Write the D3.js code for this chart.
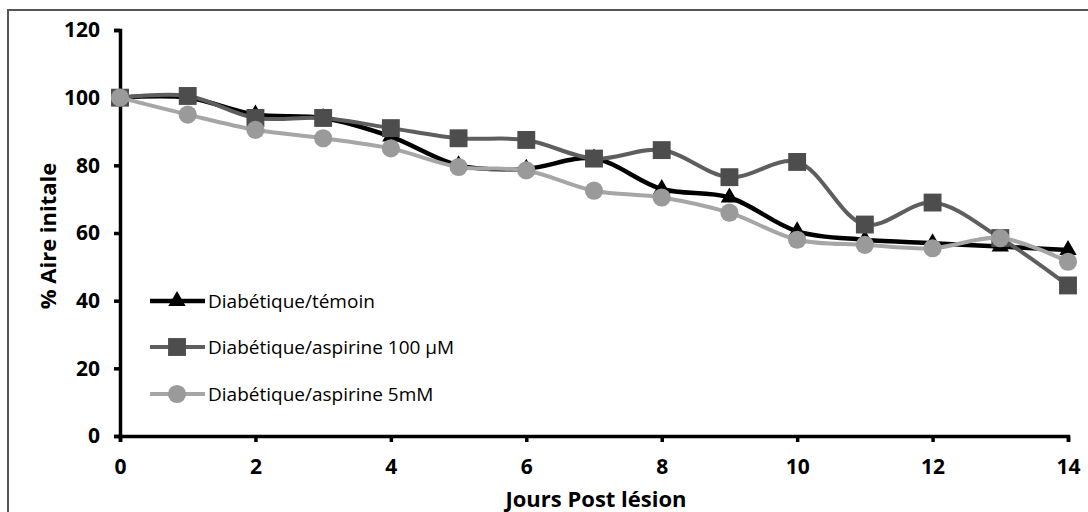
<!DOCTYPE html>
<html>
<head>
<meta charset="utf-8">
<script src="https://cdn.jsdelivr.net/npm/d3@7"></script>
<style>
  html, body { margin: 0; padding: 0; background: #fff; }
  svg { display: block; }
</style>
</head>
<body>
<svg id="chart" width="1088" height="512"></svg>
<script>
// Days after wounding
const days = [0, 1, 2, 3, 4, 5, 6, 7, 8, 9, 10, 11, 12, 13, 14];

// Remaining wound area (% of initial area) per group
const temoin      = [100, 100, 95, 94, 88.5, 80, 79, 82, 73, 70.5, 60.5, 58, 57, 56, 55];
const aspirine100 = [100, 100.5, 94, 94, 91, 88, 87.5, 82, 84.5, 76.5, 81, 62.5, 69, 58.5, 44.5];
const aspirine5   = [100, 95, 90.5, 88, 85, 79.5, 78.5, 72.5, 70.5, 66, 58, 56.5, 55.5, 58.5, 51.5];

const seriesNames = ["Diabétique/témoin", "Diabétique/aspirine 100 µM", "Diabétique/aspirine 5mM"];

const xTicks = [0, 2, 4, 6, 8, 10, 12, 14];
const yTicks = [0, 20, 40, 60, 80, 100, 120];

const xTitle = "Jours Post lésion";
const yTitle = "% Aire initale";

const svg = d3.select("#chart");

// outer frame
svg.append("rect")
  .attr("x", 8).attr("y", 10)
  .attr("width", 1100).attr("height", 520)
  .attr("fill", "none")
  .attr("stroke", "#555")
  .attr("stroke-width", 2);

const x = d3.scaleLinear().domain([0, 14]).range([120, 1068]);
const y = d3.scaleLinear().domain([0, 120]).range([436, 30]);

const tickFont = "'Open Sans', 'Noto Sans', sans-serif";

// y axis
const yAxis = svg.append("g")
  .attr("transform", `translate(${x(0)},0)`)
  .call(d3.axisLeft(y).tickValues(yTicks).tickSize(6).tickPadding(14).tickFormat(d3.format("d")));
yAxis.select(".domain").attr("stroke", "#000").attr("stroke-width", 3.5);
yAxis.selectAll(".tick line").attr("stroke", "#000").attr("stroke-width", 3.5);
yAxis.selectAll(".tick text")
  .attr("font-family", tickFont).attr("font-weight", "bold")
  .attr("font-size", 21).attr("fill", "#000");

// x axis
const xAxis = svg.append("g")
  .attr("transform", `translate(0,${y(0)})`)
  .call(d3.axisBottom(x).tickValues(xTicks).tickSize(6).tickPadding(17).tickFormat(d3.format("d")));
xAxis.select(".domain").attr("stroke", "#000").attr("stroke-width", 3.5);
xAxis.selectAll(".tick line").attr("stroke", "#000").attr("stroke-width", 3.5);
xAxis.selectAll(".tick text")
  .attr("font-family", tickFont).attr("font-weight", "bold")
  .attr("font-size", 21).attr("fill", "#000");

// axis titles
svg.append("text")
  .attr("x", 596).attr("y", 507)
  .attr("text-anchor", "middle")
  .attr("font-family", tickFont).attr("font-weight", "bold")
  .attr("font-size", 22).attr("fill", "#000")
  .text(xTitle);

svg.append("text")
  .attr("transform", "translate(56,236) rotate(-90)")
  .attr("text-anchor", "middle")
  .attr("font-family", tickFont).attr("font-weight", "bold")
  .attr("font-size", 22).attr("fill", "#000")
  .text(yTitle);

// series styling
const styles = [
  { values: temoin,      line: "#000",    mark: "#000",    width: 4.5, symbol: d3.symbolTriangle, size: 130 },
  { values: aspirine100, line: "#5e5e5e", mark: "#4d4d4d", width: 4,   symbol: d3.symbolSquare,   size: 320 },
  { values: aspirine5,   line: "#a6a6a6", mark: "#9a9a9a", width: 4,   symbol: d3.symbolCircle,   size: 260 }
];

const line = d3.line()
  .x((d, i) => x(days[i]))
  .y(d => y(d))
  .curve(d3.curveCatmullRom.alpha(0.5));

styles.forEach(s => {
  const g = svg.append("g");
  g.append("path")
    .datum(s.values)
    .attr("d", line)
    .attr("fill", "none")
    .attr("stroke", s.line)
    .attr("stroke-width", s.width)
    .attr("stroke-linejoin", "round");
  g.selectAll("path.mark")
    .data(s.values)
    .join("path")
    .attr("class", "mark")
    .attr("transform", (d, i) => `translate(${x(days[i])},${y(d)})`)
    .attr("d", d3.symbol().type(s.symbol).size(s.size))
    .attr("fill", s.mark);
});

// legend
const legendRows = [301, 347, 394];
styles.forEach((s, i) => {
  const g = svg.append("g").attr("transform", `translate(0,${legendRows[i]})`);
  g.append("line")
    .attr("x1", 150).attr("x2", 205)
    .attr("y1", 0).attr("y2", 0)
    .attr("stroke", s.line).attr("stroke-width", s.width);
  g.append("path")
    .attr("transform", "translate(177,0)")
    .attr("d", d3.symbol().type(s.symbol).size(s.size))
    .attr("fill", s.mark);
  g.append("text")
    .attr("x", 208).attr("y", 0).attr("dy", "0.35em")
    .attr("font-family", tickFont)
    .attr("font-size", 19).attr("fill", "#000")
    .text(seriesNames[i]);
});
</script>
</body>
</html>
